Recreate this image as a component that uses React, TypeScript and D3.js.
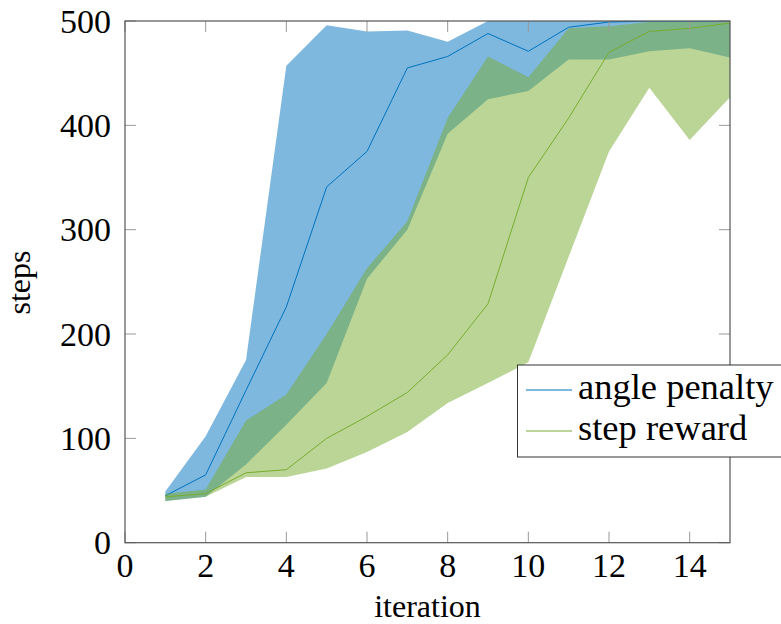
import React from "react";
import * as d3 from "d3";

const iterations = [1, 2, 3, 4, 5, 6, 7, 8, 9, 10, 11, 12, 13, 14, 15];
const angleMean = [45, 65, 146, 226, 341, 375, 455, 466, 488, 471, 494, 499, 500, 500, 500];
const angleUpper = [49, 102, 175, 457, 496, 490, 491, 480, 500, 500, 500, 500, 500, 500, 500];
const angleLower = [40, 44, 75, 113, 153, 253, 300, 392, 425, 433, 463, 463, 471, 474, 465];
const stepMean = [44, 47, 67, 70, 100, 121, 144, 180, 229, 350, 407, 470, 490, 493, 498];
const stepUpper = [47, 51, 117, 142, 200, 263, 308, 407, 466, 446, 493, 495, 499, 499, 499];
const stepLower = [40, 44, 63, 63, 71, 87, 106, 134, 153, 173, 274, 375, 436, 386, 427];
const xTicks = [0, 2, 4, 6, 8, 10, 12, 14];
const yTicks = [0, 100, 200, 300, 400, 500];
const seriesNames = ["angle penalty", "step reward"];
const seriesColors = ["#0072bd", "#77ac30"];

const W = 781;
const H = 624;
const L = 125, R = 730, T = 21, B = 542.7;
const FONT = "'Liberation Serif', 'DejaVu Serif', serif";

export default function App() {
  const x = d3.scaleLinear().domain([0, 15]).range([L, R]);
  const y = d3.scaleLinear().domain([0, 500]).range([B, T]);

  const area = (lo: number[], hi: number[]) =>
    d3
      .area<number>()
      .x((d) => x(d))
      .y0((_, i) => y(lo[i]))
      .y1((_, i) => y(hi[i]))(iterations) || "";
  const line = (v: number[]) =>
    d3
      .line<number>()
      .x((d) => x(d))
      .y((_, i) => y(v[i]))(iterations) || "";

  const bands = [
    { lo: angleLower, hi: angleUpper, mean: angleMean, color: seriesColors[0] },
    { lo: stepLower, hi: stepUpper, mean: stepMean, color: seriesColors[1] },
  ];

  const tickLen = 11;
  const legendX = 517.5, legendY = 365;

  return (
    <svg
      width={W}
      height={H}
      style={{ position: "absolute", left: 0, top: 0, background: "#fff" }}
      fontFamily={FONT}
    >
      <defs>
        <clipPath id="plotclip">
          <rect x={L} y={T} width={R - L} height={B - T} />
        </clipPath>
      </defs>
      <g clipPath="url(#plotclip)">
        {bands.map((b, k) => (
          <g key={k}>
            <path d={area(b.lo, b.hi)} fill={b.color} fillOpacity={0.5} stroke="none" />
            <path d={line(b.mean)} fill="none" stroke={b.color} strokeWidth={1} />
          </g>
        ))}
      </g>
      {xTicks.map((t) => (
        <g key={"xt" + t}>
          <line x1={x(t)} x2={x(t)} y1={B} y2={B - tickLen} stroke="#999" strokeWidth={1} />
          <line x1={x(t)} x2={x(t)} y1={T} y2={T + tickLen} stroke="#999" strokeWidth={1} />
          <text x={x(t)} y={577} textAnchor="middle" fontSize={34} fill="#000">
            {t}
          </text>
        </g>
      ))}
      {yTicks.map((t) => (
        <g key={"yt" + t}>
          <line x1={L} x2={L + tickLen} y1={y(t)} y2={y(t)} stroke="#999" strokeWidth={1} />
          <line x1={R} x2={R - tickLen} y1={y(t)} y2={y(t)} stroke="#999" strokeWidth={1} />
          <text x={111} y={y(t)} dy="0.34em" textAnchor="end" fontSize={34} fill="#000">
            {t}
          </text>
        </g>
      ))}
      <rect x={L} y={T} width={R - L} height={B - T} fill="none" stroke="#555" strokeWidth={1.2} />
      <text x={427.5} y={616.5} textAnchor="middle" fontSize={32} fill="#000">
        iteration
      </text>
      <text
        transform={`translate(30,282.5) rotate(-90)`}
        textAnchor="middle"
        fontSize={32}
        fill="#000"
      >
        steps
      </text>
      <rect x={legendX} y={legendY} width={280} height={92} fill="#fff" stroke="#333" strokeWidth={1} />
      {seriesNames.map((n, i) => (
        <g key={n}>
          <line x1={526} x2={572} y1={390 + i * 41} y2={390 + i * 41} stroke={seriesColors[i]} strokeWidth={1} />
          <text x={578} y={399 + i * 41} fontSize={36.5} fill="#000">
            {n}
          </text>
        </g>
      ))}
    </svg>
  );
}
